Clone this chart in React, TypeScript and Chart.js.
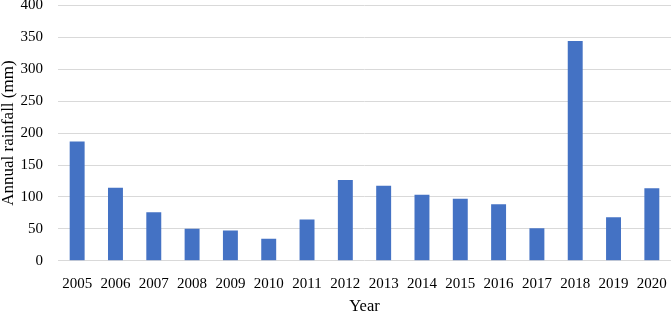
import React, { useEffect, useRef } from "react";
import { Chart, registerables } from "chart.js";

Chart.register(...registerables);

const years = ["2005","2006","2007","2008","2009","2010","2011","2012","2013","2014","2015","2016","2017","2018","2019","2020"];
const rainfall = [187, 114.5, 76, 50, 47.5, 34.5, 64.5, 126.5, 117.5, 103.5, 97, 88.5, 51, 344.5, 68, 113.5];
const yTicks = [0, 50, 100, 150, 200, 250, 300, 350, 400];

const FONT = "'Liberation Serif', 'Times New Roman', serif";

export default function App() {
  const ref = useRef<HTMLCanvasElement | null>(null);
  useEffect(() => {
    document.body.style.margin = "0";
    const ctx = ref.current!;
    const chart = new Chart(ctx, {
      type: "bar",
      data: {
        labels: years,
        datasets: [
          {
            label: "Annual rainfall",
            data: rainfall,
            backgroundColor: "#4472C4",
            borderWidth: 0,
            barPercentage: 0.39,
            categoryPercentage: 1,
          },
        ],
      },
      options: {
        responsive: false,
        animation: false,
        devicePixelRatio: 1,
        layout: { padding: { top: 5.5, right: 0, left: 0, bottom: 0 } },
        plugins: { legend: { display: false }, tooltip: { enabled: false } },
        scales: {
          x: {
            grid: { display: false, drawTicks: false },
            border: { display: false },
            ticks: { color: "#000", font: { family: FONT, size: 15 }, padding: 14, maxRotation: 0, autoSkip: false },
            title: { display: true, text: "Year", color: "#000", font: { family: FONT, size: 16.5, lineHeight: 0.75 }, padding: { top: 0, bottom: 0 } },
            afterFit: (s: any) => { s.height = 52.3; s.paddingLeft = 0; s.paddingRight = 0; },
          },
          y: {
            min: 0,
            max: 400,
            afterBuildTicks: (s: any) => { s.ticks = yTicks.map((v) => ({ value: v })); },
            grid: { color: "#D9D9D9", lineWidth: 1, drawTicks: false },
            border: { display: false },
            ticks: { color: "#000", font: { family: FONT, size: 15 }, padding: 15 },
            title: { display: true, text: "Annual rainfall (mm)", color: "#000", font: { family: FONT, size: 17, lineHeight: 1 }, padding: { top: 0, bottom: 0 } },
            afterFit: (s: any) => { s.width = 58; s.paddingTop = 0; s.paddingBottom = 0; },
          },
        },
      },
    });
    return () => chart.destroy();
  }, []);
  return (
    <div style={{ position: "fixed", left: 0, top: 0, width: 671, height: 313 }}>
      <canvas ref={ref} width={671} height={313} style={{ display: "block", width: 671, height: 313 }} />
    </div>
  );
}
